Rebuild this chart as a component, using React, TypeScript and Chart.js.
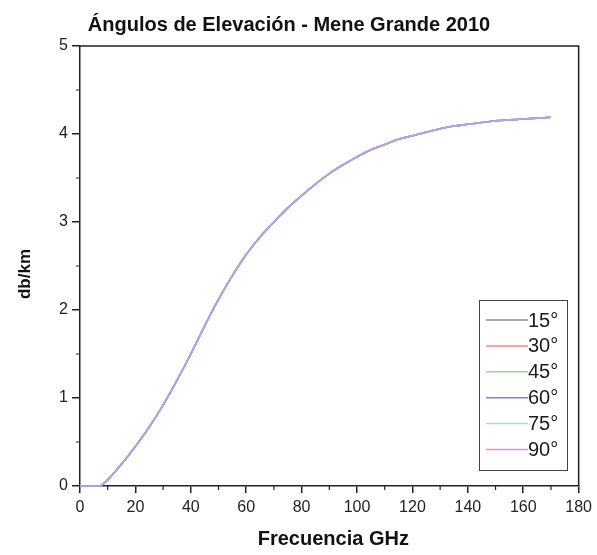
import React, { useEffect, useRef } from "react";
import { Chart, registerables } from "chart.js";

Chart.register(...registerables);

const frequencies = [0, 5, 7, 10, 15, 20, 25, 30, 35, 40, 45, 50, 55, 60, 65, 70, 75, 80, 85, 90, 95, 100, 105, 110, 115, 120, 125, 130, 135, 140, 145, 150, 155, 160, 165, 170];
const attenuation = [0, 0, 0, 0.07, 0.25, 0.45, 0.67, 0.92, 1.2, 1.5, 1.82, 2.12, 2.39, 2.63, 2.83, 3.0, 3.16, 3.3, 3.43, 3.55, 3.65, 3.74, 3.82, 3.88, 3.94, 3.98, 4.02, 4.06, 4.09, 4.11, 4.13, 4.15, 4.16, 4.17, 4.18, 4.19];
const angleLabels = ["15°", "30°", "45°", "60°", "75°", "90°"];
const angleColors = ["#8a8a8a", "#f08a8a", "#8ae08a", "#6a60d8", "#8ae6e0", "rgba(240,90,240,0.5)"];
const legendColors = ["#8a8a8a", "#f08a8a", "#8ae08a", "#8080e8", "#8ae6e0", "#f080f0"];
const xTicksMajor = 20;
const yTicksMajor = 1;
const chartTitle = "Ángulos de Elevación - Mene Grande 2010";
const xTitle = "Frecuencia GHz";
const yTitle = "db/km";

const FONT = "'Liberation Sans', Arial, sans-serif";
const AXIS = "#222";

const decorPlugin = {
  id: "decor",
  afterDraw(chart: any) {
    const { ctx, chartArea: a, scales } = chart;
    const xs = scales.x;
    const ys = scales.y;
    ctx.save();
    ctx.strokeStyle = AXIS;
    ctx.lineWidth = 1.5;
    ctx.beginPath();
    ctx.moveTo(a.left, a.top);
    ctx.lineTo(a.right, a.top);
    ctx.lineTo(a.right, a.bottom);
    ctx.stroke();
    ctx.lineWidth = 1.2;
    ctx.beginPath();
    for (let v = xTicksMajor / 2; v < xs.max; v += xTicksMajor) {
      const p = xs.getPixelForValue(v);
      ctx.moveTo(p, a.bottom);
      ctx.lineTo(p, a.bottom + 4);
    }
    for (let v = yTicksMajor / 2; v < ys.max; v += yTicksMajor) {
      const p = ys.getPixelForValue(v);
      ctx.moveTo(a.left, p);
      ctx.lineTo(a.left - 4, p);
    }
    ctx.stroke();

    ctx.fillStyle = "#111";
    ctx.textAlign = "center";
    ctx.textBaseline = "middle";
    ctx.font = `bold 20px ${FONT}`;
    ctx.fillText(chartTitle, 289, 25);
    ctx.font = `bold 20px ${FONT}`;
    ctx.fillText(xTitle, (a.left + a.right) / 2 + 4, 539);
    ctx.save();
    ctx.translate(25, (a.top + a.bottom) / 2 + 8);
    ctx.rotate(-Math.PI / 2);
    ctx.font = `bold 17px ${FONT}`;
    ctx.fillText(yTitle, 0, 0);
    ctx.restore();

    const lx = 479, ly = 300, lw = 88, lh = 170;
    ctx.strokeStyle = "#444";
    ctx.lineWidth = 1;
    ctx.strokeRect(lx + 0.5, ly + 0.5, lw, lh);
    ctx.font = `20px ${FONT}`;
    ctx.textAlign = "left";
    chart.data.datasets.forEach((ds: any, i: number) => {
      const y = 320 + i * 25.9;
      ctx.strokeStyle = legendColors[i];
      ctx.lineWidth = 1.5;
      ctx.beginPath();
      ctx.moveTo(486, y);
      ctx.lineTo(528, y);
      ctx.stroke();
      ctx.fillStyle = "#1a1a1a";
      ctx.fillText(ds.label, 528, y + 1);
    });
    ctx.restore();
  },
};

export default function App() {
  const ref = useRef<HTMLCanvasElement>(null);
  useEffect(() => {
    if (!ref.current) return;
    const datasets = angleLabels.map((label, i) => ({
      label,
      data: frequencies.map((f, j) => ({ x: f, y: attenuation[j] })),
      borderColor: angleColors[i],
      backgroundColor: angleColors[i],
      borderWidth: 1.6,
      pointRadius: 0,
      cubicInterpolationMode: "monotone" as const,
      fill: false,
      order: angleLabels.length - i,
      clip: 3,
    }));
    const chart = new Chart(ref.current, {
      type: "line",
      data: { datasets },
      options: {
        responsive: false,
        animation: false,
        layout: { padding: { top: 46, right: 15, left: 0, bottom: 0 } },
        plugins: { legend: { display: false }, title: { display: false }, tooltip: { enabled: false } },
        scales: {
          x: {
            type: "linear",
            min: 0,
            max: 180,
            afterFit: (s: any) => { s.height = 69; },
            ticks: { stepSize: xTicksMajor, color: "#222", font: { family: FONT, size: 16 }, padding: 5, maxRotation: 0 },
            grid: { display: true, drawOnChartArea: false, drawTicks: true, tickLength: 7, color: AXIS, lineWidth: 1.5 },
            border: { display: true, color: AXIS, width: 1.5 },
          },
          y: {
            type: "linear",
            min: 0,
            max: 5,
            afterFit: (s: any) => { s.width = 80; },
            ticks: { stepSize: yTicksMajor, color: "#222", font: { family: FONT, size: 16 }, padding: 4 },
            grid: { display: true, drawOnChartArea: false, drawTicks: true, tickLength: 8, color: AXIS, lineWidth: 1.5 },
            border: { display: true, color: AXIS, width: 1.5 },
          },
        },
      },
      plugins: [decorPlugin],
    });
    return () => chart.destroy();
  }, []);
  return (
    <div style={{ position: "fixed", left: 0, top: 0, width: 597, height: 555, background: "#fff" }}>
      <canvas ref={ref} width={597} height={555} />
    </div>
  );
}
